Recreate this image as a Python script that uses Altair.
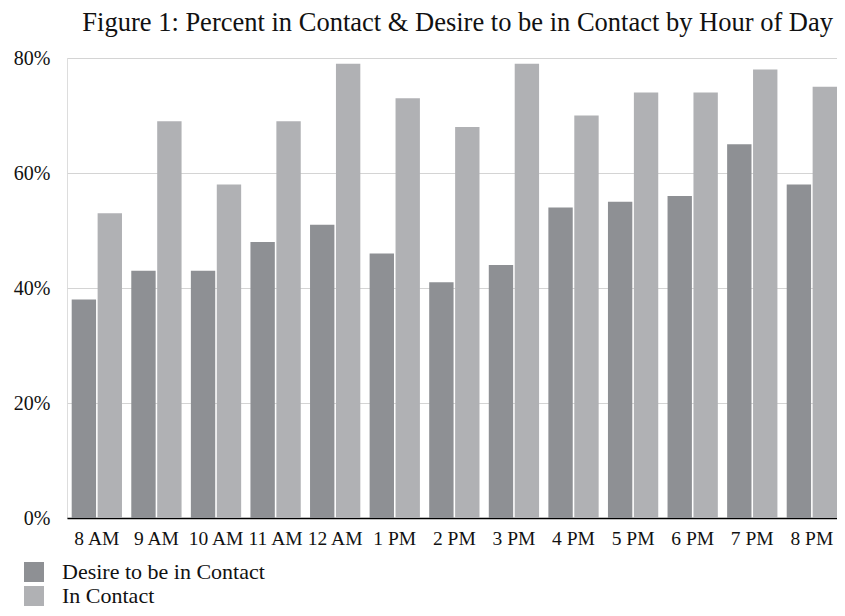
import altair as alt
import pandas as pd

hours = ["8 AM", "9 AM", "10 AM", "11 AM", "12 AM", "1 PM", "2 PM",
         "3 PM", "4 PM", "5 PM", "6 PM", "7 PM", "8 PM"]
desire = [38, 43, 43, 48, 51, 46, 41, 44, 54, 55, 56, 65, 58]
in_contact = [53, 69, 58, 69, 79, 73, 68, 79, 70, 74, 74, 78, 75]
series = ["Desire to be in Contact", "In Contact"]
colors = ["#8e9094", "#b0b1b4"]

rows = []
for h, d, c in zip(hours, desire, in_contact):
    rows.append({"hour": h, "series": series[0], "value": d / 100})
    rows.append({"hour": h, "series": series[1], "value": c / 100})
df = pd.DataFrame(rows)

FONT = "Liberation Serif"

chart = alt.Chart(df).mark_bar().encode(
    x=alt.X("hour:N", sort=hours,
            scale=alt.Scale(paddingInner=0.156, paddingOuter=0.0394, align=1),
            axis=alt.Axis(title=None, labelAngle=0, ticks=False, domainColor="#000000",
                          domainWidth=1.5, labelFont=FONT, labelFontSize=19.5,
                          labelColor="#111111", labelPadding=11)),
    xOffset=alt.XOffset("series:N", sort=series,
                        scale=alt.Scale(paddingInner=0.06)),
    y=alt.Y("value:Q",
            scale=alt.Scale(domain=[0, 0.8]),
            axis=alt.Axis(title=None, format=".0%", values=[0, 0.2, 0.4, 0.6, 0.8],
                          domain=False, ticks=False, gridColor="#d4d4d4",
                          labelFont=FONT, labelFontSize=20, labelColor="#111111",
                          labelPadding=17)),
    color=alt.Color("series:N", sort=series,
                    scale=alt.Scale(domain=series, range=colors),
                    legend=alt.Legend(title=None, orient="none", legendX=-44, legendY=503,
                                      symbolType="square", symbolSize=400,
                                      symbolStrokeWidth=0, labelFont=FONT,
                                      labelFontSize=22, labelColor="#111111",
                                      labelLimit=0, rowPadding=2, labelOffset=17)),
).properties(
    width=770,
    height=460,
    autosize=alt.AutoSizeParams(type="none"),
    padding={"left": 59, "top": 50, "right": 0, "bottom": 90},
    title=alt.TitleParams(
        "Figure 1: Percent in Contact & Desire to be in Contact by Hour of Day",
        font=FONT, fontSize=26.5, fontWeight="normal", color="#111111",
        anchor="end", dx=-4, offset=12),
).configure_view(stroke=None).configure(background="white")

chart.save("out.html", embed_options={"renderer": "svg", "actions": False})
